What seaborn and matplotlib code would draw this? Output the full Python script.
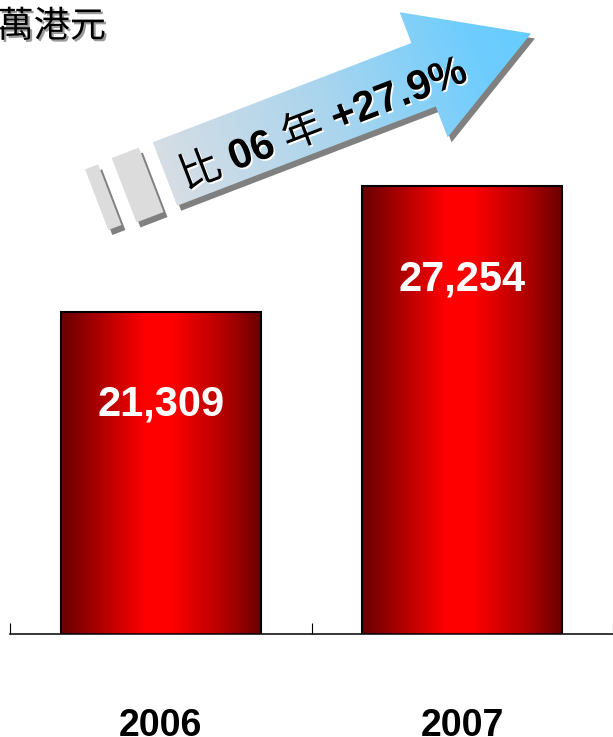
import numpy as np
import pandas as pd
import matplotlib
matplotlib.use("Agg")
import matplotlib.pyplot as plt
import matplotlib.patheffects as pe
from matplotlib.colors import LinearSegmentedColormap
from matplotlib.patches import Polygon
import seaborn as sns

# Data
years = ["2006", "2007"]
revenue = [21309, 27254]
unit_label = "百萬港元"
compare_prefix = "比"
base_year_short = "06"
year_char = "年"

sns.set_theme(style="white")
plt.rcParams["font.family"] = ["Liberation Sans", "DejaVu Sans"]

W, H = 613, 737
fig = plt.figure(figsize=(W / 100, H / 100), dpi=100)
fig.patch.set_facecolor("white")

# Main bar axes
ax = fig.add_axes([10 / W, 103 / H, 603 / W, 634 / H])
df = pd.DataFrame({"year": years, "revenue": revenue})
sns.barplot(data=df, x="year", y="revenue", ax=ax, width=0.665,
            color="red", saturation=1, edgecolor="black", linewidth=1.5)

y_floor, y_top = 6000, 36100
x_lim = (-0.5, -0.5 + 603 / 306)

# Horizontal red gradient inside every bar
bar_cmap = LinearSegmentedColormap.from_list(
    "bar_red", [(0.0, "#680000"), (0.2, "#b00000"), (0.42, "#ff0000"),
                (0.55, "#ff0000"), (0.82, "#b00000"), (1.0, "#680000")])
grad = np.linspace(0, 1, 256)[None, :]
for p in list(ax.patches):
    x0, w, top = p.get_x(), p.get_width(), p.get_height()
    im = ax.imshow(grad, cmap=bar_cmap, extent=[x0, x0 + w, y_floor, top],
                   aspect="auto", interpolation="bicubic", zorder=2)
    im.set_clip_path(p)
    p.set_facecolor("none")
    p.set_zorder(3)

ax.set_xlim(*x_lim)
ax.set_ylim(y_floor, y_top)

# Value labels inside the bars
for i, v in enumerate(revenue):
    ax.annotate(f"{v:,}", xy=(i, v), xytext=(0, -67), textcoords="offset points",
                ha="center", va="center", color="white", fontsize=30,
                fontweight="bold", zorder=4)

# Axes styling
for side in ["left", "top", "right"]:
    ax.spines[side].set_visible(False)
ax.spines["bottom"].set_color("black")
ax.spines["bottom"].set_linewidth(1.1)
ax.set_yticks([])
ax.set_xlabel("")
ax.set_ylabel("")
ax.set_xticks([-0.5, 0.5, 1.5], minor=True)
ax.tick_params(axis="x", which="major", length=0, pad=53)
ax.tick_params(axis="x", which="minor", length=8, width=0.8,
               direction="in", color="black", bottom=True)
for lbl in ax.get_xticklabels():
    lbl.set_fontsize(27)
    lbl.set_fontweight("bold")
    lbl.set_color("black")
ax.patch.set_alpha(0)

# Overlay in pixel coordinates for the unit label and the growth arrow
deco = fig.add_axes([0, 0, 1, 1], zorder=5)
deco.set_xlim(0, W)
deco.set_ylim(H, 0)
deco.axis("off")
deco.patch.set_alpha(0)

deco.text(106, 27, unit_label, ha="right", va="center", fontsize=26,
          family=["Noto Sans CJK TC", "DejaVu Sans"], color="black",
          path_effects=[pe.SimplePatchShadow(offset=(1.5, -1.5),
                                             shadow_rgbFace="#9a9a9a", alpha=1),
                        pe.Normal()])

ang_deg = 21
ang = np.deg2rad(ang_deg)
origin = np.array([165.0, 174.0])
u = np.array([np.cos(ang), -np.sin(ang)])
nrm = np.array([np.sin(ang), np.cos(ang)])


def to_px(local):
    local = np.asarray(local, float)
    return origin + local[:, :1] * u + local[:, 1:2] * nrm


def rect_local(s0, s1, t0, t1):
    return [(s0, t0), (s1, t0), (s1, t1), (s0, t1)]


shadow_off = np.array([4.0, 5.0])
arrow_local = [(0, -34), (277, -34), (277, -67), (392, 0),
               (277, 67), (277, 34), (0, 34)]
blocks = [rect_local(-73, -59, -33, 32), rect_local(-44, -15, -34, 35)]

for blk in blocks:
    deco.add_patch(Polygon(to_px(blk) + shadow_off, closed=True,
                           fc="#808080", ec="none", zorder=2))
    deco.add_patch(Polygon(to_px(blk), closed=True, fc="#dcdcdc",
                           ec="none", zorder=3))

deco.add_patch(Polygon(to_px(arrow_local) + shadow_off, closed=True,
                       fc="#808080", ec="none", zorder=2))
arrow_poly = Polygon(to_px(arrow_local), closed=True, fc="none", ec="none",
                     zorder=3)
deco.add_patch(arrow_poly)

gx, gy = np.meshgrid(np.arange(130, 560) + 0.5, np.arange(0, 240) + 0.5)
s_proj = (gx - origin[0]) * u[0] + (gy - origin[1]) * u[1]
frac = np.clip(s_proj / 392, 0, 1)
arrow_cmap = LinearSegmentedColormap.from_list(
    "arrow_blue", [(0.0, "#d6dde4"), (0.45, "#aad5ee"), (0.85, "#6fcdfd"),
                   (1.0, "#66ccff")])
aim = deco.imshow(frac, cmap=arrow_cmap, vmin=0, vmax=1,
                  extent=[130, 560, 240, 0], origin="upper",
                  interpolation="bilinear", aspect="auto", zorder=3)
aim.set_clip_path(arrow_poly)
deco.set_xlim(0, W)
deco.set_ylim(H, 0)

# Growth text along the arrow
growth_text = f"+{(revenue[1] / revenue[0] - 1) * 100:.1f}%"
fs = 30
cjk_kw = dict(family=["Noto Sans CJK TC", "DejaVu Sans"], fontweight="normal")
bold_kw = dict(family=["Liberation Sans", "DejaVu Sans"], fontweight="bold")
pieces = [(compare_prefix, cjk_kw), (base_year_short, bold_kw),
          (year_char, cjk_kw), (growth_text, bold_kw)]

renderer = fig.canvas.get_renderer()
widths = []
for txt, kw in pieces:
    t = deco.text(0, 0, txt, fontsize=fs, **kw)
    widths.append(t.get_window_extent(renderer).width)
    t.remove()

px_per_pt = 100 / 72
gap = 0.26 * fs * px_per_pt
total = sum(widths) + gap * (len(pieces) - 1)
center = np.array([322.0, 121.0])
pos = center - total / 2 * u + 0.36 * fs * px_per_pt * nrm
text_fx = [pe.SimplePatchShadow(offset=(1.2, -1.2), shadow_rgbFace="white",
                                alpha=1), pe.Normal()]
for (txt, kw), w in zip(pieces, widths):
    deco.text(pos[0], pos[1], txt, fontsize=fs, rotation=ang_deg,
              rotation_mode="anchor", ha="left", va="baseline", color="black",
              path_effects=text_fx, zorder=6, **kw)
    pos = pos + (w + gap) * u

fig.savefig("out.png", dpi=100, facecolor="white")
